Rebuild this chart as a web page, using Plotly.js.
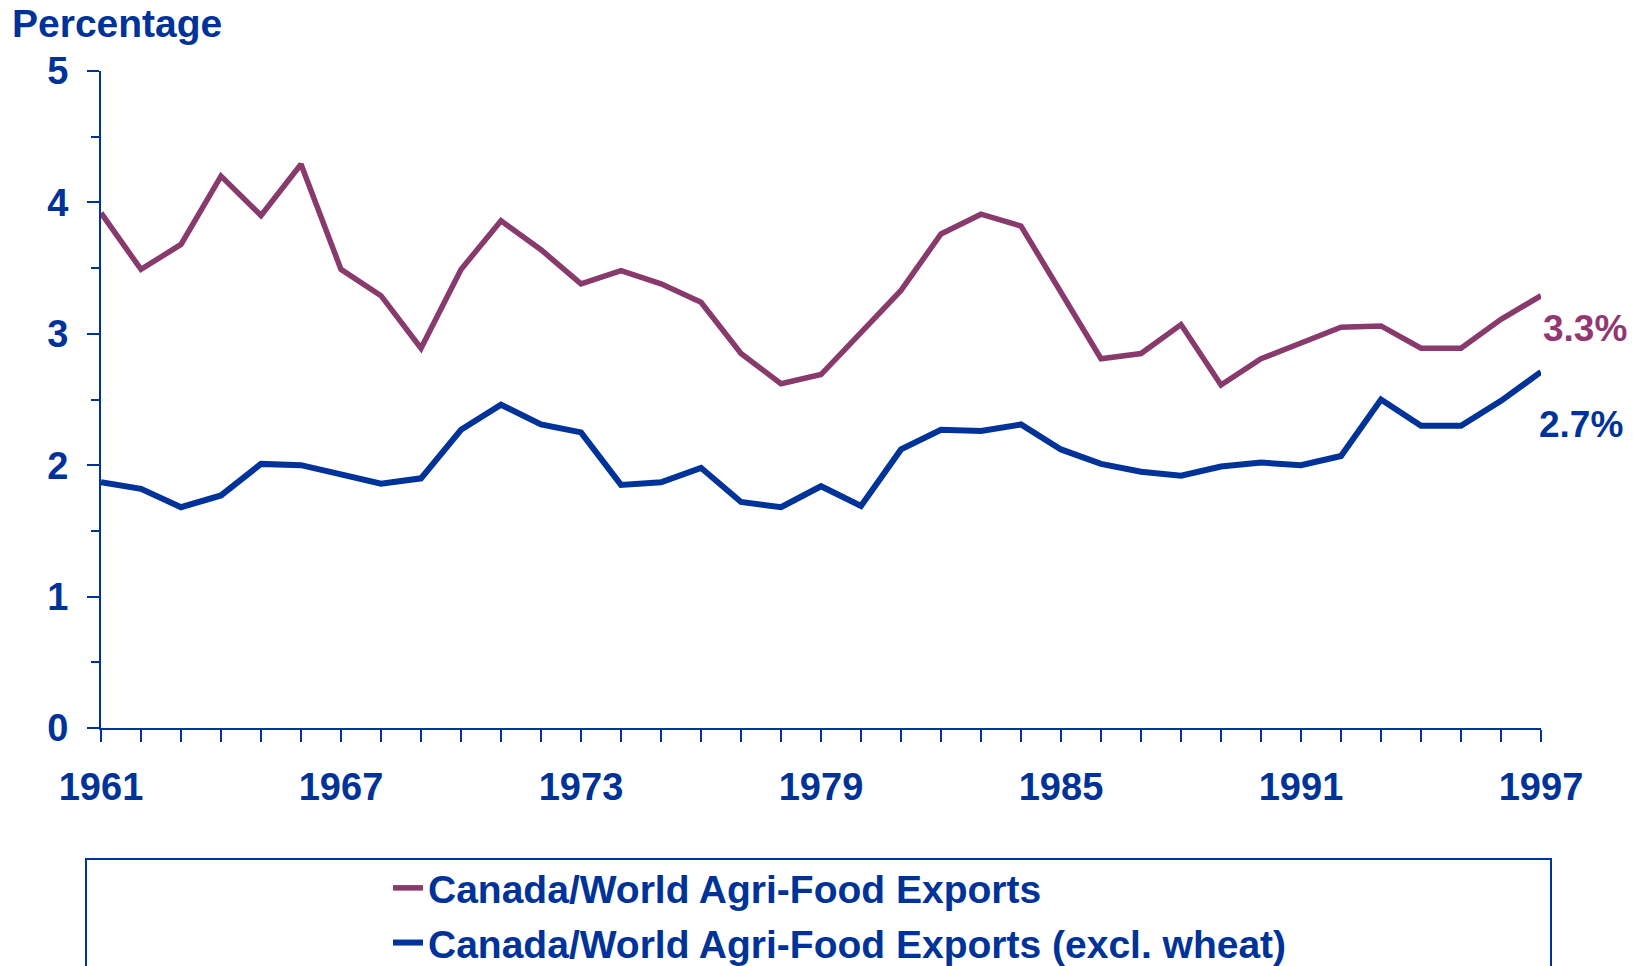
<!DOCTYPE html>
<html>
<head>
<meta charset="utf-8">
<script src="https://cdn.plot.ly/plotly-3.0.1.min.js"></script>
<style>
  html, body { margin: 0; padding: 0; background: #fff; }
  #chart { width: 1637px; height: 966px; }
</style>
</head>
<body>
<div id="chart"></div>
<script>
// ---- data ----
var years = [1961,1962,1963,1964,1965,1966,1967,1968,1969,1970,1971,1972,1973,1974,1975,1976,1977,1978,1979,
             1980,1981,1982,1983,1984,1985,1986,1987,1988,1989,1990,1991,1992,1993,1994,1995,1996,1997];
var totalShare = [3.92,3.49,3.68,4.20,3.90,4.29,3.49,3.29,2.89,3.49,3.86,3.64,3.38,3.48,3.38,3.24,2.85,2.62,2.69,
                  3.01,3.33,3.76,3.91,3.82,3.31,2.81,2.85,3.07,2.61,2.81,2.93,3.05,3.06,2.89,2.89,3.11,3.29];
var exWheatShare = [1.87,1.82,1.68,1.77,2.01,2.00,1.93,1.86,1.90,2.27,2.46,2.31,2.25,1.85,1.87,1.98,1.72,1.68,1.84,
                    1.69,2.12,2.27,2.26,2.31,2.12,2.01,1.95,1.92,1.99,2.02,2.00,2.07,2.50,2.30,2.30,2.49,2.71];
var seriesNames = ['Canada/World Agri-Food Exports', 'Canada/World Agri-Food Exports (excl. wheat)'];
var endLabels = ['3.3%', '2.7%'];
var xTickVals = [1961,1967,1973,1979,1985,1991,1997];
var yTickVals = [0,1,2,3,4,5];

// ---- styling ----
var BLUE = '#003399';
var PURPLE = '#873A6B';
var PURPLE_TXT = '#923870';
var FONT = 'Liberation Sans, Arial, Helvetica, sans-serif';

var W = 1637, H = 966;
var M = {l: 101, r: 96, t: 71, b: 238};
var PW = W - M.l - M.r, PH = H - M.t - M.b;
function px2x(p) { return (p - M.l) / PW; }
function px2y(p) { return (H - M.b - p) / PH; }

var traces = [
  {x: years, y: totalShare, name: seriesNames[0], type: 'scatter', mode: 'lines',
   line: {color: PURPLE, width: 5.5}, legendgroup: 'a'},
  {x: years, y: exWheatShare, name: seriesNames[1], type: 'scatter', mode: 'lines',
   line: {color: BLUE, width: 6}, legendgroup: 'b'}
];

var layout = {
  width: W, height: H,
  margin: {l: M.l, r: M.r, t: M.t, b: M.b, autoexpand: false},
  paper_bgcolor: '#fff', plot_bgcolor: '#fff',
  font: {family: FONT, color: BLUE, weight: 'bold'},
  title: {
    text: 'Percentage', x: 12 / W, xref: 'container', xanchor: 'left',
    y: 1 - 23 / H, yref: 'container', yanchor: 'middle',
    font: {family: FONT, size: 39, color: BLUE, weight: 'bold'}
  },
  xaxis: {
    range: [1961, 1997], tickvals: xTickVals, ticktext: xTickVals.map(String),
    showgrid: false, zeroline: false,
    showline: true, linecolor: BLUE, linewidth: 2,
    ticks: 'outside', ticklen: 12, tickwidth: 2, tickcolor: BLUE,
    ticklabelstandoff: 12,
    tickfont: {family: FONT, size: 38, color: BLUE, weight: 'bold'},
    minor: {dtick: 1, tick0: 1961, ticks: 'outside', ticklen: 12, tickwidth: 2, tickcolor: BLUE, showgrid: false}
  },
  yaxis: {
    range: [0, 5], tickvals: yTickVals,
    showgrid: false, zeroline: false,
    showline: true, linecolor: BLUE, linewidth: 2,
    ticks: 'outside', ticklen: 12, tickwidth: 2, tickcolor: BLUE,
    ticklabelstandoff: 11,
    tickfont: {family: FONT, size: 38, color: BLUE, weight: 'bold'},
    minor: {dtick: 0.5, tick0: 0, ticks: 'outside', ticklen: 8, tickwidth: 2, tickcolor: BLUE, showgrid: false}
  },
  showlegend: true,
  legend: {
    orientation: 'v', x: px2x(388), xanchor: 'left', y: px2y(856), yanchor: 'top',
    bgcolor: 'rgba(0,0,0,0)', borderwidth: 0, tracegroupgap: 1,
    font: {family: FONT, size: 39, color: BLUE, weight: 'bold'}
  },
  shapes: [{
    type: 'rect', xref: 'paper', yref: 'paper',
    x0: px2x(86), x1: px2x(1551), y0: px2y(859), y1: px2y(1010),
    line: {color: BLUE, width: 2}, fillcolor: 'rgba(0,0,0,0)', layer: 'above'
  }],
  annotations: [
    {x: years[years.length - 1], y: totalShare[totalShare.length - 1], xref: 'x', yref: 'y',
     text: endLabels[0], showarrow: false, xanchor: 'left', yanchor: 'middle', xshift: 0, yshift: -33,
     font: {family: FONT, size: 37, color: PURPLE_TXT, weight: 'bold'}},
    {x: years[years.length - 1], y: exWheatShare[exWheatShare.length - 1], xref: 'x', yref: 'y',
     text: endLabels[1], showarrow: false, xanchor: 'left', yanchor: 'middle', xshift: -4, yshift: -53,
     font: {family: FONT, size: 37, color: BLUE, weight: 'bold'}}
  ]
};

Plotly.newPlot('chart', traces, layout, {displayModeBar: false, staticPlot: true});
</script>
</body>
</html>
